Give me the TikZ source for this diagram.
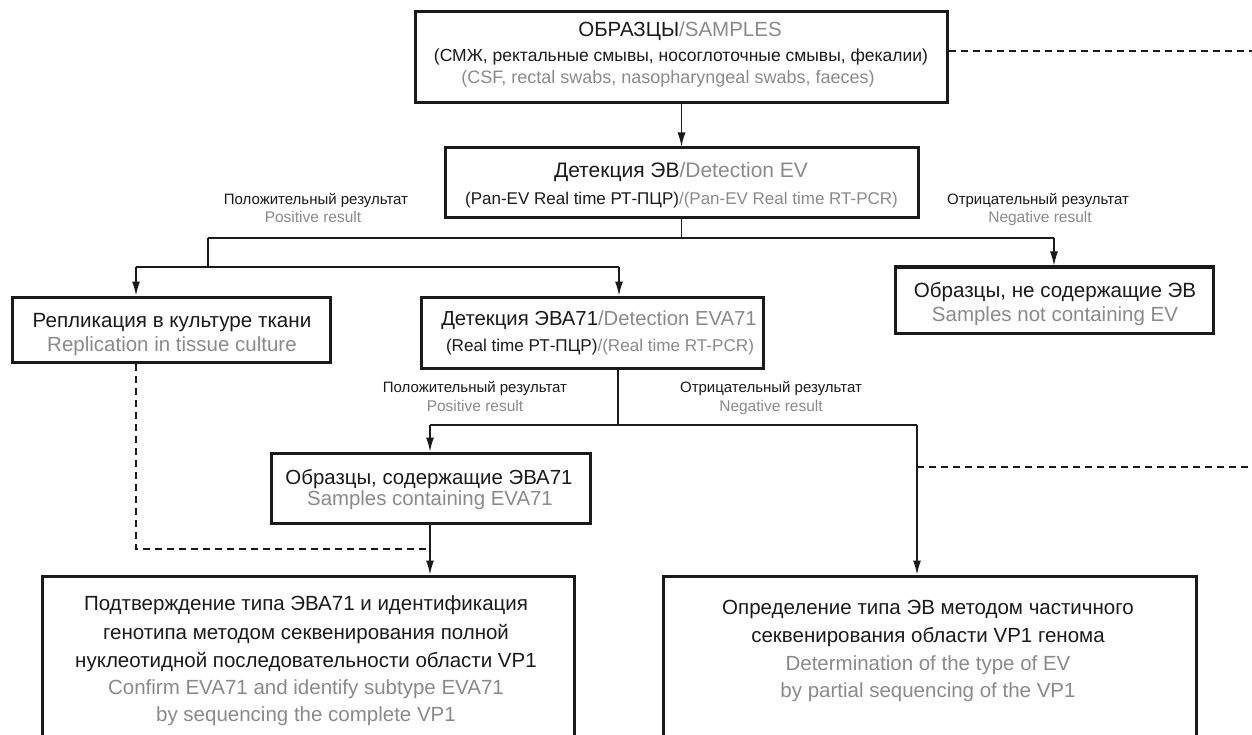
\documentclass[tikz,border=0pt]{standalone}
\usepackage{fontspec}
\setmainfont{Liberation Sans}
\usetikzlibrary{arrows.meta}
\definecolor{ink}{HTML}{1A1A1A}
\definecolor{gry}{HTML}{8A8A8A}
\newcommand\fsz[1]{\fontsize{#1}{#1}\selectfont}
\begin{document}
\begin{tikzpicture}[x=1pt,y=-1pt,
  box/.style={draw=ink, line width=3pt, inner sep=0pt},
  tx/.style={anchor=base, inner sep=0pt, text=ink},
  gt/.style={tx, text=gry},
  conn/.style={draw=ink, line width=1.3pt},
  arr/.style={conn, -{Latex[length=14pt,width=8pt]}},
  dsh/.style={draw=ink, line width=1.3pt, dash pattern=on 7pt off 5pt},
]
\useasboundingbox (0,0) rectangle (1252,735);
\fill[white] (0,0) rectangle (1252,735);
\clip (0,0) rectangle (1252,735);

% boxes
\node[box, minimum width=532pt, minimum height=91pt] (b1) at (681,57.5) {};
\node[box, minimum width=473pt, minimum height=70pt] (b2) at (681.5,183) {};
\node[box, minimum width=318pt, minimum height=66pt] (b3) at (1054,300) {};
\node[box, minimum width=318pt, minimum height=65pt] (b4) at (171,329.5) {};
\node[box, minimum width=342pt, minimum height=71pt] (b5) at (592,332.5) {};
\node[box, minimum width=319pt, minimum height=70pt] (b6) at (430.5,488) {};
\node[box, minimum width=532pt, minimum height=184pt] (b7) at (308,668) {};
\node[box, minimum width=533pt, minimum height=184pt] (b8) at (929.5,668) {};

% texts
\node[tx] (t1a) at (680,37) {\fsz{20.5}ОБРАЗЦЫ\textcolor{gry}{/SAMPLES}};
\node[tx] (t1b) at (681,62) {\fsz{17.5}(СМЖ, ректальные смывы, носоглоточные смывы, фекалии)};
\node[gt] (t1c) at (668,84) {\fsz{18}(CSF, rectal swabs, nasopharyngeal swabs, faeces)};

\node[tx] (t2a) at (681,178) {\fsz{21}Детекция ЭВ\textcolor{gry}{/Detection EV}};
\node[tx] (t2b) at (681.5,205) {\fsz{17}(Pan-EV Real time РТ-ПЦР)\textcolor{gry}{/(Pan-EV Real time RT-PCR)}};

\node[tx] (p1a) at (316,205) {\fsz{15}Положительный результат};
\node[gt] (p1b) at (313,223) {\fsz{15.5}Positive result};
\node[tx] (n1a) at (1038,205) {\fsz{15}Отрицательный результат};
\node[gt] (n1b) at (1040,223) {\fsz{15.5}Negative result};

\node[tx] (t3a) at (1055,298) {\fsz{20.6}Образцы, не содержащие ЭВ};
\node[gt] (t3b) at (1055,321) {\fsz{20.5}Samples not containing EV};

\node[tx] (t4a) at (172,327) {\fsz{20.6}Репликация в культуре ткани};
\node[gt] (t4b) at (172,351) {\fsz{20.5}Replication in tissue culture};

\node[tx] (t5a) at (599,325) {\fsz{20.3}Детекция ЭВА71\textcolor{gry}{/Detection EVA71}};
\node[tx] (t5b) at (600,351) {\fsz{17.1}(Real time РТ-ПЦР)\textcolor{gry}{/(Real time RT-PCR)}};

\node[tx] (p2a) at (475,392) {\fsz{15}Положительный результат};
\node[gt] (p2b) at (475,411) {\fsz{15.5}Positive result};
\node[tx] (n2a) at (771,392) {\fsz{15}Отрицательный результат};
\node[gt] (n2b) at (771,411) {\fsz{15.5}Negative result};

\node[tx] (t6a) at (429,484) {\fsz{20.4}Образцы, содержащие ЭВА71};
\node[gt] (t6b) at (430,505) {\fsz{20.4}Samples containing EVA71};

\node[tx] (t7a) at (306,610) {\fsz{20.5}Подтверждение типа ЭВА71 и идентификация};
\node[tx] (t7b) at (306,639) {\fsz{20.5}генотипа методом секвенирования полной};
\node[tx] (t7c) at (306,667) {\fsz{20.5}нуклеотидной последовательности области VP1};
\node[gt] (t7d) at (306,694) {\fsz{20.5}Confirm EVA71 and identify subtype EVA71};
\node[gt] (t7e) at (306,721) {\fsz{20.5}by sequencing the complete VP1};

\node[tx] (t8a) at (928,614) {\fsz{20.5}Определение типа ЭВ методом частичного};
\node[tx] (t8b) at (928,642) {\fsz{20.5}секвенирования области VP1 генома};
\node[gt] (t8c) at (928,670) {\fsz{20.5}Determination of the type of EV};
\node[gt] (t8d) at (928,697) {\fsz{20.5}by partial sequencing of the VP1};

% junction coordinates
\coordinate (j1) at (681.5,238);
\coordinate (j1l) at (208,238);
\coordinate (j1r) at (1054,238);
\coordinate (j2) at (208,267);
\coordinate (j2l) at (136,267);
\coordinate (j2r) at (619,267);
\coordinate (j3) at (618,425);
\coordinate (j3l) at (430,425);
\coordinate (j3r) at (917,425);
\coordinate (d1) at (430,549);
\coordinate (e1) at (1252,51);
\coordinate (e2) at (1252,467);

% connectors
\draw[arr] (b1.south -| b2.north) -- (b2.north);
\draw[conn] (b2.south) -- (j1);
\draw[conn] (j1l) -- (j1r);
\draw[arr] (j1r) -- (b3.north -| j1r);
\draw[conn] (j1l) -- (j2);
\draw[conn] (j2l) -- (j2r);
\draw[arr] (j2l) -- (b4.north -| j2l);
\draw[arr] (j2r) -- (b5.north -| j2r);
\draw[conn] (b5.south -| j3) -- (j3);
\draw[conn] (j3l) -- (j3r);
\draw[arr] (j3l) -- (b6.north -| j3l);
\draw[arr] (j3r) -- (b8.north -| j3r);
\draw[arr] (b6.south -| j3l) -- (b7.north -| j3l);
\draw[dsh] (b4.south -| j2l) |- (d1);
\draw[dsh] (b1.east |- e1) -- (e1);
\draw[dsh] (e2 -| j3r) -- (e2);
\end{tikzpicture}
\end{document}
